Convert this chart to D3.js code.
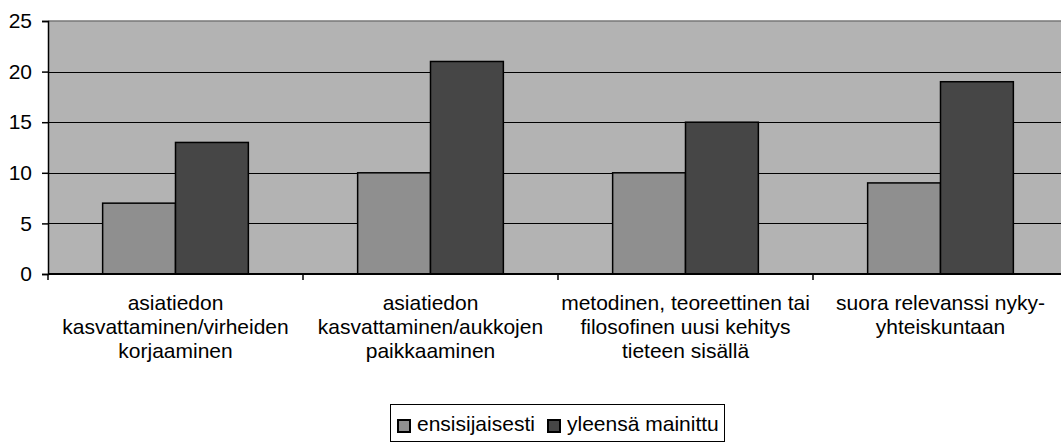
<html lang="fi">
<head>
<meta charset="utf-8">
<title>Asiatiedon kasvattaminen</title>
<script src="https://d3js.org/d3.v7.min.js"></script>
<style>
  body { margin: 0; background: #fff; }
  text { font-family: "Liberation Sans", Arial, sans-serif; fill: #000; }
</style>
</head>
<body>
<div id="chart"></div>
<script>
// categories (each one split into lines as in the original)
var categories = [
  ["asiatiedon", "kasvattaminen/virheiden", "korjaaminen"],
  ["asiatiedon", "kasvattaminen/aukkojen", "paikkaaminen"],
  ["metodinen, teoreettinen tai", "filosofinen uusi kehitys", "tieteen sisällä"],
  ["suora relevanssi nyky-", "yhteiskuntaan"]
];
var seriesNames = ["ensisijaisesti", "yleensä mainittu"];
var primary = [7, 10, 10, 9];     // ensisijaisesti
var general = [13, 21, 15, 19];   // yleensä mainittu
var yTicks = [0, 5, 10, 15, 20, 25];

var colors = ["#8f8f8f", "#464646"];

var W = 1061, H = 443;
var m = {left: 48, top: 21, bottom: 274};
var catW = 255;
var plotRight = m.left + catW * categories.length;
var fs = 21;

var svg = d3.select("#chart").append("svg")
  .attr("width", W).attr("height", H);

var y = d3.scaleLinear().domain([0, 25]).range([m.bottom, m.top]);
var x = d3.scaleBand()
  .domain(d3.range(categories.length))
  .range([m.left, plotRight]);
// two bars inside each category, gap width 150%
var x1 = d3.scaleBand()
  .domain([0, 1])
  .range([0, catW])
  .paddingInner(0)
  .paddingOuter(0.75);

// plot background
svg.append("rect")
  .attr("x", m.left).attr("y", m.top)
  .attr("width", plotRight - m.left).attr("height", m.bottom - m.top)
  .attr("fill", "#b3b3b3");
svg.append("line")
  .attr("x1", m.left).attr("x2", plotRight)
  .attr("y1", m.top).attr("y2", m.top)
  .attr("stroke", "#777").attr("stroke-width", 1.5);

// gridlines
svg.append("g").selectAll("line")
  .data(yTicks.filter(function(d) { return d > 0 && d < 25; }))
  .join("line")
    .attr("x1", m.left).attr("x2", plotRight)
    .attr("y1", function(d) { return Math.round(y(d)) + 0.5; })
    .attr("y2", function(d) { return Math.round(y(d)) + 0.5; })
    .attr("stroke", "#000").attr("stroke-width", 1);

// bars
var rows = categories.map(function(c, i) { return [primary[i], general[i]]; });
var groups = svg.append("g").selectAll("g")
  .data(rows)
  .join("g")
    .attr("transform", function(d, i) { return "translate(" + x(i) + ",0)"; });
groups.selectAll("rect")
  .data(function(d) { return d; })
  .join("rect")
    .attr("x", function(d, j) { return x1(j); })
    .attr("y", function(d) { return y(d); })
    .attr("width", x1.bandwidth())
    .attr("height", function(d) { return m.bottom - y(d); })
    .attr("fill", function(d, j) { return colors[j]; })
    .attr("stroke", "#000").attr("stroke-width", 1.5);

// y axis
var yAxis = svg.append("g")
  .attr("transform", "translate(" + m.left + ",0)")
  .call(d3.axisLeft(y).tickValues(yTicks).tickSize(6).tickPadding(10));
yAxis.select(".domain").attr("stroke", "#000").attr("stroke-width", 1.5);
yAxis.selectAll(".tick line").attr("stroke", "#000").attr("stroke-width", 1.5);
yAxis.selectAll("text").attr("font-size", fs).attr("fill", "#000")
  .style("font-family", "Liberation Sans, Arial, sans-serif");

// x axis (ticks at category boundaries)
var xAxis = svg.append("g");
xAxis.append("line")
  .attr("x1", m.left).attr("x2", plotRight)
  .attr("y1", m.bottom).attr("y2", m.bottom)
  .attr("stroke", "#000").attr("stroke-width", 2);
xAxis.selectAll(".sep")
  .data(d3.range(categories.length + 1))
  .join("line")
    .attr("class", "sep")
    .attr("x1", function(i) { return m.left + i * catW; })
    .attr("x2", function(i) { return m.left + i * catW; })
    .attr("y1", m.bottom).attr("y2", m.bottom + 6)
    .attr("stroke", "#000").attr("stroke-width", 1.5);

var labels = xAxis.selectAll(".cat")
  .data(categories)
  .join("text")
    .attr("class", "cat")
    .attr("text-anchor", "middle")
    .attr("font-size", fs)
    .attr("x", function(d, i) { return x(i) + catW / 2; })
    .attr("y", 310);
labels.selectAll("tspan")
  .data(function(d) { return d; })
  .join("tspan")
    .attr("x", function() { return this.parentNode.getAttribute("x"); })
    .attr("dy", function(d, k) { return k === 0 ? 0 : 24; })
    .text(function(d) { return d; });

// legend
var lg = svg.append("g");
lg.append("rect")
  .attr("x", 390.5).attr("y", 404.5)
  .attr("width", 334).attr("height", 37)
  .attr("fill", "#fff").attr("stroke", "#000").attr("stroke-width", 1);
var items = [
  { name: seriesNames[0], color: colors[0], x: 398 },
  { name: seriesNames[1], color: colors[1], x: 548 }
];
var it = lg.selectAll(".item").data(items).join("g")
  .attr("class", "item")
  .attr("transform", function(d) { return "translate(" + d.x + ",0)"; });
it.append("rect")
  .attr("x", 0).attr("y", 420)
  .attr("width", 12).attr("height", 12)
  .attr("fill", function(d) { return d.color; })
  .attr("stroke", "#000").attr("stroke-width", 2);
it.append("text")
  .attr("x", 19).attr("y", 431)
  .attr("font-size", fs)
  .text(function(d) { return d.name; });
</script>
</body>
</html>
